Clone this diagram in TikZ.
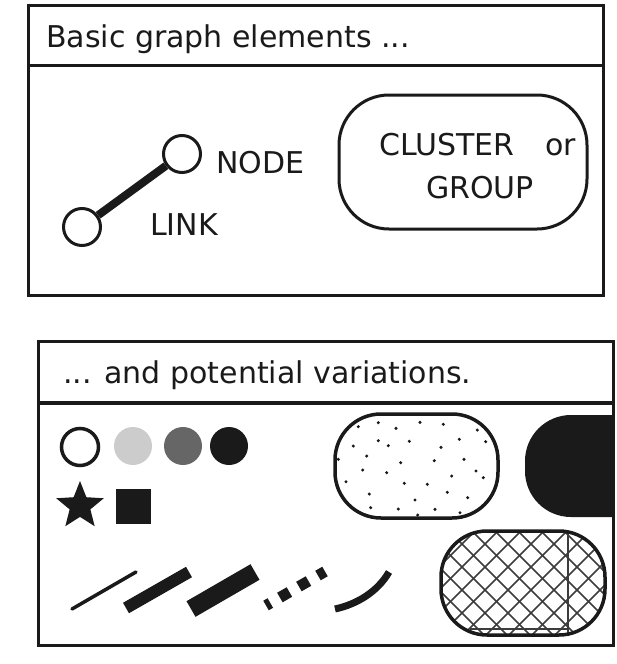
\documentclass[tikz,border=0pt]{standalone}
\usepackage{fontspec}
\setmainfont{DejaVu Sans}
\usetikzlibrary{shapes.geometric}
\definecolor{ink}{HTML}{1A1A1A}
\definecolor{lightg}{HTML}{CCCCCC}
\definecolor{darkg}{HTML}{666666}
\definecolor{hatch}{HTML}{3C3C3C}
\begin{document}
\begin{tikzpicture}[x=1pt,y=-1pt,
  panel/.style={draw=ink, line width=3pt},
  titletext/.style={anchor=base west, inner sep=0pt, text=ink, font=\fontsize{30}{36}\selectfont},
  lbl/.style={anchor=base west, inner sep=0pt, text=ink, font=\fontsize{30}{36}\selectfont},
  gnode/.style={circle, draw=ink, fill=white, line width=3pt, minimum size=37pt, inner sep=0pt},
  pill/.style={draw=ink, line width=3.5pt, rounded corners=46pt},
  linkline/.style={draw=ink, line width=8pt},
  varline/.style={draw=ink, line cap=butt}
]
\useasboundingbox (0,0) rectangle (616,664);
\fill[white] (0,0) rectangle (616,664);

% ---------- top panel ----------
\draw[panel] (28,5) rectangle (603,295);
\draw[panel] (28,65) -- (603,65);
\node[titletext] (t1) at (46,47) {Basic graph elements ...};

\node[gnode] (n1) at (182,154) {};
\node[gnode] (n2) at (82,227) {};
\draw[linkline] (n2) -- (n1);
\node[lbl] (nodelbl) at (216,173) {NODE};
\node[lbl] (linklbl) at (150,235) {LINK};

\draw[draw=ink, line width=3pt, rounded corners=50pt] (339,95) rectangle (587,229);
\node[lbl] (cl1) at (379,155) {CLUSTER};
\node[lbl] (cl2) at (545,155) {or};
\node[lbl] (cl3) at (426,198) {GROUP};

% ---------- bottom panel ----------
\draw[panel] (38,341) rectangle (613,645);
\draw[draw=ink, line width=4pt] (38,403) -- (613,403);
\node[titletext] (t2) at (63,383) {... and potential variations.};

% circles
\node[circle, draw=ink, fill=white, line width=3.5pt, minimum size=37pt, inner sep=0pt] (c1) at (80,447) {};
\node[circle, fill=lightg, minimum size=38pt, inner sep=0pt] (c2) at (133,446) {};
\node[circle, fill=darkg, minimum size=38pt, inner sep=0pt] (c3) at (183,446) {};
\node[circle, fill=ink, minimum size=38pt, inner sep=0pt] (c4) at (229,446) {};

% star and square
\node[star, star points=5, star point ratio=2.3, fill=ink, minimum size=50pt, inner sep=0pt] (st) at (80,506) {};
\node[rectangle, fill=ink, minimum size=35pt, inner sep=0pt] (sq) at (133.5,506.5) {};

% line variations
\coordinate (a1) at (72,609);  \coordinate (b1) at (136,572);
\coordinate (a2) at (126,608); \coordinate (b2) at (189,572);
\coordinate (a3) at (191,609); \coordinate (b3) at (255,572);
\coordinate (a4) at (266,605.5); \coordinate (b4) at (325,571.5);
\coordinate (a5) at (335,609); \coordinate (b5) at (389,572);
\draw[varline, line width=3.5pt, line cap=round] (a1) -- (b1);
\draw[varline, line width=12pt] (a2) -- (b2);
\draw[varline, line width=18pt] (a3) -- (b3);
\draw[varline, line width=11pt, dash pattern=on 11pt off 11pt, dash phase=6pt] (a4) -- (b4);
\draw[varline, line width=7pt] (a5) .. controls (358,604) and (378,591) .. (b5);

% dotted pill
\draw[pill] (335,414) rectangle (498,518);
\foreach \p in {(358.3,426.7),(378.3,422.7),(396,428.3),(420,422.3),(443.3,424.3),(477.3,430),
  (353.3,446),(378.3,440.7),(388.3,445.7),(409.3,441.3),(459.3,439.3),(485.7,441.7),
  (366.7,456),(338.3,459.3),(400.7,462.7),(434.3,460.7),(464,459.3),(362.7,470),
  (386.7,472.7),(441,447.3),(476,471),(483.3,477.7),(451.7,476),(346,481.7),
  (404.3,483.3),(427.3,484.3),(369.3,494),(447.3,492.3),(415,500),(467.7,497.7),
  (370.7,507.7),(398.3,509),(435,509.3),(417.7,515),(460,512.7)}
  {\fill[ink] \p circle (1.7pt);}

% black pill (cut by panel edge)
\begin{scope}
  \clip (0,0) rectangle (613,664);
  \fill[ink, rounded corners=46pt] (525,415) rectangle (680,517);
\end{scope}

% crosshatched pill
\begin{scope}
  \clip[rounded corners=46pt] (441,531) rectangle (605,635);
  \foreach \i in {0,...,16} {
    \draw[hatch, line width=1.5pt] (300+\i*23,520) -- ++(130,130);
    \draw[hatch, line width=1.5pt] (440+\i*23,520) -- ++(-130,130);
  }
  \draw[hatch, line width=2pt] (568,520) -- (568,650);
  \draw[hatch, line width=2pt] (470,629) -- (568,629);
\end{scope}
\draw[pill] (441,531) rectangle (605,635);
\end{tikzpicture}
\end{document}
